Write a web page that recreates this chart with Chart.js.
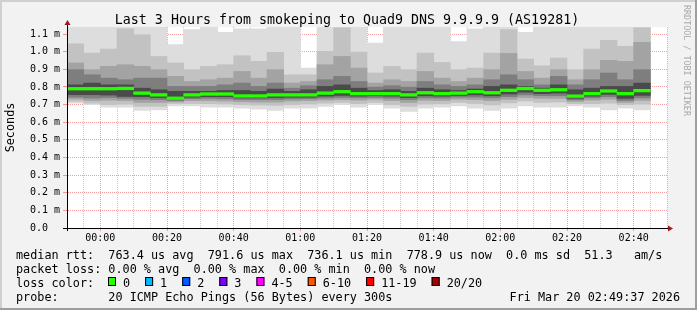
<!DOCTYPE html>
<html>
<head>
<meta charset="utf-8">
<title>smokeping Quad9</title>
<script src="https://cdn.jsdelivr.net/npm/chart.js@4.4.1/dist/chart.umd.min.js"></script>
<style>
  body { margin: 0; background: #f2f2f2; }
  canvas { display: block; }
</style>
</head>
<body>
<canvas id="smoke" width="697" height="310"></canvas>
<script>
// 5 minute slots (start time), last 3 hours
const slots = ['23:50', '23:55', '00:00', '00:05', '00:10', '00:15', '00:20', '00:25', '00:30', '00:35',
  '00:40', '00:45', '00:50', '00:55', '01:00', '01:05', '01:10', '01:15', '01:20', '01:25',
  '01:30', '01:35', '01:40', '01:45', '01:50', '01:55', '02:00', '02:05', '02:10', '02:15',
  '02:20', '02:25', '02:30', '02:35', '02:40'];
const tickLabels = ['00:00', '00:20', '00:40', '01:00', '01:20', '01:40', '02:00', '02:20', '02:40'];
const yLabels = ['0.0  ', '0.1 m', '0.2 m', '0.3 m', '0.4 m', '0.5 m', '0.6 m', '0.7 m', '0.8 m', '0.9 m', '1.0 m', '1.1 m'];

// rtt in ms, smoke band edges (outer -> inner)
const maxRtt = [1.14, 1.14, 1.14, 1.14, 1.14, 1.14, 1.04, 1.125, 1.14, 1.11, 1.13, 1.13, 1.14, 1.14, 0.907, 1.14, 1.14, 1.14, 1.049, 1.14, 1.14, 1.14, 1.14, 1.058, 1.13, 1.14, 1.14, 1.11, 1.14, 1.14, 1.14, 1.14, 1.14, 1.14, 1.14];
const hi2 = [1.045, 0.992, 1.015, 1.13, 1.096, 0.973, 0.936, 0.898, 0.917, 0.926, 0.977, 0.945, 0.996, 0.869, 0.869, 1.002, 1.135, 0.998, 0.879, 0.917, 0.898, 0.992, 0.939, 0.898, 0.907, 0.992, 1.125, 0.958, 0.920, 0.964, 0.898, 1.015, 1.064, 1.030, 1.135];
const hi3 = [0.936, 0.898, 0.917, 0.926, 0.917, 0.898, 0.860, 0.831, 0.841, 0.850, 0.888, 0.850, 0.898, 0.822, 0.831, 0.926, 0.973, 0.907, 0.822, 0.841, 0.831, 0.888, 0.850, 0.831, 0.850, 0.898, 0.990, 0.888, 0.850, 0.898, 0.841, 0.898, 0.951, 0.945, 1.053];
const hi4 = [0.898, 0.869, 0.850, 0.841, 0.850, 0.850, 0.803, 0.803, 0.803, 0.812, 0.822, 0.803, 0.822, 0.793, 0.807, 0.841, 0.860, 0.831, 0.799, 0.807, 0.799, 0.831, 0.812, 0.803, 0.812, 0.841, 0.869, 0.841, 0.812, 0.860, 0.812, 0.841, 0.879, 0.841, 0.898];
const hi5 = [0.812, 0.822, 0.812, 0.812, 0.793, 0.784, 0.775, 0.775, 0.775, 0.780, 0.780, 0.775, 0.788, 0.775, 0.784, 0.803, 0.812, 0.793, 0.780, 0.784, 0.775, 0.793, 0.784, 0.780, 0.788, 0.803, 0.812, 0.803, 0.793, 0.812, 0.784, 0.793, 0.803, 0.803, 0.822];
const median = [0.790, 0.790, 0.790, 0.7916, 0.765, 0.755, 0.736, 0.755, 0.760, 0.760, 0.749, 0.749, 0.755, 0.755, 0.755, 0.765, 0.773, 0.762, 0.762, 0.762, 0.755, 0.767, 0.762, 0.765, 0.773, 0.767, 0.781, 0.791, 0.781, 0.784, 0.748, 0.762, 0.777, 0.762, 0.779];
const lo5 = [0.756, 0.756, 0.754, 0.746, 0.745, 0.740, 0.728, 0.742, 0.745, 0.745, 0.738, 0.738, 0.740, 0.742, 0.742, 0.748, 0.752, 0.748, 0.750, 0.748, 0.740, 0.750, 0.748, 0.752, 0.755, 0.750, 0.760, 0.770, 0.762, 0.765, 0.736, 0.748, 0.758, 0.735, 0.752];
const lo4 = [0.742, 0.737, 0.740, 0.735, 0.730, 0.728, 0.722, 0.733, 0.735, 0.733, 0.728, 0.728, 0.728, 0.732, 0.733, 0.737, 0.740, 0.738, 0.740, 0.736, 0.728, 0.738, 0.737, 0.742, 0.742, 0.738, 0.745, 0.755, 0.750, 0.750, 0.727, 0.738, 0.745, 0.722, 0.738];
const lo3 = [0.731, 0.723, 0.725, 0.722, 0.712, 0.712, 0.715, 0.722, 0.722, 0.720, 0.716, 0.714, 0.714, 0.720, 0.722, 0.725, 0.728, 0.725, 0.730, 0.722, 0.712, 0.724, 0.723, 0.730, 0.728, 0.722, 0.730, 0.740, 0.735, 0.735, 0.718, 0.725, 0.730, 0.712, 0.724];
const lo2 = [0.718, 0.708, 0.700, 0.702, 0.690, 0.690, 0.706, 0.706, 0.705, 0.703, 0.700, 0.697, 0.695, 0.700, 0.703, 0.708, 0.712, 0.705, 0.712, 0.700, 0.690, 0.702, 0.704, 0.712, 0.706, 0.698, 0.710, 0.720, 0.712, 0.714, 0.705, 0.705, 0.708, 0.700, 0.702];
const minRtt = [0.708, 0.699, 0.686, 0.686, 0.667, 0.670, 0.693, 0.693, 0.686, 0.686, 0.680, 0.674, 0.667, 0.680, 0.680, 0.689, 0.700, 0.686, 0.699, 0.680, 0.661, 0.680, 0.686, 0.693, 0.680, 0.667, 0.680, 0.693, 0.686, 0.686, 0.693, 0.686, 0.670, 0.680, 0.670];

const lossLabels = ['0', '1', '2', '3', '4-5', '6-10', '11-19', '20/20'];
const lossColors = ['#26ff00', '#00b8ff', '#0059ff', '#7e00ff', '#ff00ff', '#ff5500', '#ff0000', '#a10000'];

const statsLine = 'median rtt:  763.4 us avg  791.6 us max  736.1 us min  778.9 us now  0.0 ms sd  51.3   am/s';
const lossLine = 'packet loss: 0.00 % avg  0.00 % max  0.00 % min  0.00 % now';
const probeLine = 'probe:       20 ICMP Echo Pings (56 Bytes) every 300s';
const stamp = 'Fri Mar 20 02:49:37 2026';

const toMin = (s) => {
  const [h, m] = s.split(':').map(Number);
  return (h >= 12 ? h - 24 : h) * 60 + m;
};
const centers = slots.map(s => toMin(s) + 2.5);
const tickMap = {};
tickLabels.forEach(t => { tickMap[toMin(t)] = t; });

const redGrid = 'rgba(235, 40, 40, 0.45)';
const grayGrid = 'rgba(120, 120, 120, 0.4)';
const mono = "'DejaVu Sans Mono', monospace";
const medianHalf = 0.0075;

const bands = [
  [minRtt, maxRtt, '#dddddd'],
  [lo2, hi2, '#c2c2c2'],
  [lo3, hi3, '#a3a3a3'],
  [lo4, hi4, '#7e7e7e'],
  [lo5, hi5, '#4a4a4a']
];

const datasets = bands.map((b, k) => ({
  label: 'smoke' + k,
  data: b[0].map((lo, i) => ({ x: centers[i], y: [lo, b[1][i]] })),
  backgroundColor: b[2],
  order: 10 - k
}));
datasets.push({
  label: 'median',
  data: median.map((m, i) => ({ x: centers[i], y: [m - medianHalf, m + medianHalf] })),
  backgroundColor: lossColors[0],
  order: 1
});

const decor = {
  id: 'decor',
  beforeDraw(chart) {
    const { ctx, chartArea: a } = chart;
    ctx.save();
    ctx.fillStyle = '#f2f2f2';
    ctx.fillRect(0, 0, chart.width, chart.height);
    ctx.fillStyle = '#ffffff';
    ctx.fillRect(a.left, a.top, a.right - a.left, a.bottom - a.top);
    ctx.restore();
  },
  afterDraw(chart) {
    const { ctx, chartArea: a } = chart;
    ctx.save();
    // axis extensions + arrows
    ctx.strokeStyle = '#000';
    ctx.lineWidth = 1;
    ctx.beginPath();
    ctx.moveTo(a.left - 4, a.bottom + 0.5);
    ctx.lineTo(a.right + 2, a.bottom + 0.5);
    ctx.moveTo(a.left + 0.5, a.bottom + 3);
    ctx.lineTo(a.left + 0.5, a.top - 3);
    ctx.stroke();
    ctx.fillStyle = '#9b1b1b';
    ctx.beginPath();
    ctx.moveTo(a.left - 2.5, a.top - 2);
    ctx.lineTo(a.left + 3.5, a.top - 2);
    ctx.lineTo(a.left + 0.5, a.top - 7);
    ctx.closePath();
    ctx.fill();
    ctx.beginPath();
    ctx.moveTo(a.right + 1, a.bottom - 2.5);
    ctx.lineTo(a.right + 1, a.bottom + 3.5);
    ctx.lineTo(a.right + 6, a.bottom + 0.5);
    ctx.closePath();
    ctx.fill();

    // title
    ctx.fillStyle = '#000';
    ctx.font = '13.3px ' + mono;
    ctx.textAlign = 'center';
    ctx.textBaseline = 'alphabetic';
    ctx.fillText('Last 3 Hours from smokeping to Quad9 DNS 9.9.9.9 (AS19281)', 347, 24);

    // legend
    ctx.font = '11.8px ' + mono;
    ctx.textAlign = 'left';
    ctx.fillText(statsLine, 16, 259);
    ctx.fillText(lossLine, 16, 273);
    ctx.fillText('loss color:', 16, 287);
    let x = 108;
    lossLabels.forEach((lab, i) => {
      ctx.fillStyle = lossColors[i];
      ctx.fillRect(x, 277, 8, 9);
      ctx.strokeStyle = '#000';
      ctx.strokeRect(x + 0.5, 277.5, 7, 8);
      ctx.fillStyle = '#000';
      ctx.fillText(lab, x + 15, 287);
      x += 15 + ctx.measureText(lab).width + 15;
    });
    ctx.fillText(probeLine, 16, 301);
    ctx.textAlign = 'right';
    ctx.fillText(stamp, 680, 301);

    // watermark
    ctx.translate(686.5, 5);
    ctx.rotate(Math.PI / 2);
    ctx.font = '8.4px ' + mono;
    ctx.textAlign = 'left';
    ctx.textBaseline = 'middle';
    ctx.fillStyle = '#a8a8a8';
    ctx.fillText('RRDTOOL / TOBI OETIKER', 0, 0);
    ctx.setTransform(1, 0, 0, 1, 0, 0);

    // frame
    ctx.fillStyle = '#d0d0d0';
    ctx.fillRect(0, 0, chart.width, 2);
    ctx.fillRect(0, 0, 2, chart.height);
    ctx.fillStyle = '#9e9e9e';
    ctx.fillRect(0, chart.height - 2, chart.width, 2);
    ctx.fillRect(chart.width - 2, 0, 2, chart.height);
    ctx.restore();
  }
};

Chart.defaults.font.family = mono;
Chart.defaults.color = '#000';

const smokeChart = new Chart(document.getElementById('smoke').getContext('2d'), {
  type: 'bar',
  data: { datasets: datasets },
  options: {
    responsive: false,
    devicePixelRatio: 1,
    animation: false,
    grouped: false,
    barPercentage: 1,
    categoryPercentage: 1,
    borderWidth: 0,
    layout: { padding: { top: 27, right: 30, bottom: 0, left: 0 } },
    scales: {
      x: {
        type: 'linear',
        min: toMin(slots[0]),
        max: 170,
        offset: false,
        z: 1,
        afterFit: (scale) => { scale.height = 82; },
        grid: {
          offset: false,
          color: (c) => (c.tick && Math.round(c.tick.value) % 20 === 0 ? redGrid : grayGrid),
          tickColor: (c) => (c.tick && Math.round(c.tick.value) % 20 === 0 ? redGrid : 'rgba(0,0,0,0)'),
          tickLength: 3
        },
        border: { color: '#000', width: 1, dash: [1, 1] },
        ticks: {
          stepSize: 5,
          autoSkip: false,
          maxRotation: 0,
          padding: 1,
          font: { size: 10 },
          callback: (v) => tickMap[Math.round(v)] || ''
        }
      },
      y: {
        min: 0,
        max: 1.14,
        z: 1,
        afterFit: (scale) => { scale.width = 67; },
        grid: { color: redGrid, tickColor: redGrid, tickLength: 4 },
        border: { color: '#000', width: 1, dash: [1, 1] },
        title: { display: true, text: 'Seconds', font: { size: 11.8 }, padding: { top: 4, bottom: 0 } },
        ticks: {
          stepSize: 0.1,
          includeBounds: false,
          padding: 3,
          font: { size: 10 },
          callback: (v) => yLabels[Math.round(v * 10)]
        }
      }
    },
    plugins: {
      legend: { display: false },
      tooltip: { enabled: false },
      title: { display: false }
    }
  },
  plugins: [decor]
});
</script>
</body>
</html>
